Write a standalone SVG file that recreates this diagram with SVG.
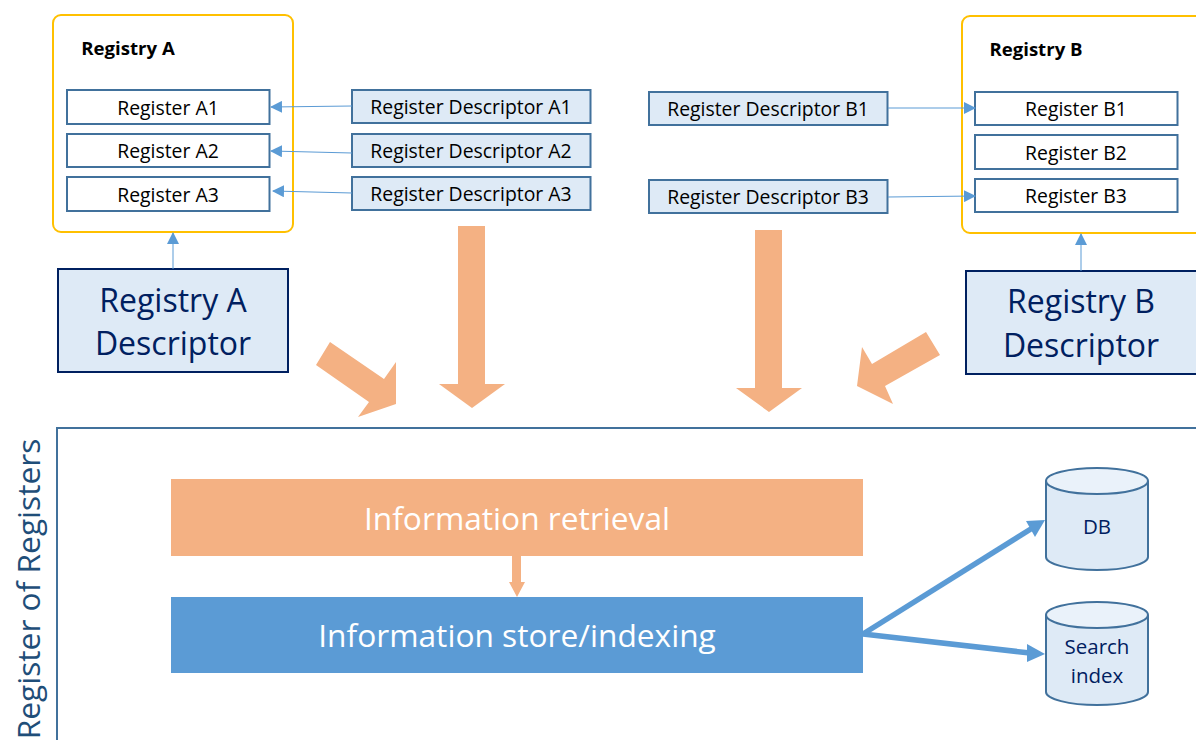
<svg xmlns="http://www.w3.org/2000/svg" width="1196" height="740" viewBox="0 0 1196 740">
<style>
text{font-family:"Open Sans","Noto Sans","Liberation Sans",sans-serif;text-anchor:middle}
.reg{fill:#fff;stroke:#41719c;stroke-width:2}
.desc{fill:#deeaf6;stroke:#41719c;stroke-width:2}
.t{font-size:19.4px;fill:#000}
.title{font-size:18.6px;font-weight:700;fill:#000}
.box{fill:#fff;stroke:#ffc000;stroke-width:2}
.rd{fill:#deeaf6;stroke:#002060;stroke-width:2}
.big{font-size:32px;fill:#002060}
.or{fill:#f4b183}
.thin{fill:none;stroke:#5b9bd5;stroke-width:1}
.cyl{fill:#deeaf6;stroke:#41719c;stroke-width:2}
.top{fill:#eaf2fa;stroke:#41719c;stroke-width:2}
.db{font-size:20.5px;fill:#002060}
.w{font-size:31.7px;fill:#fff}
</style>
<defs>
<marker id="a" markerUnits="userSpaceOnUse" markerWidth="12" markerHeight="12" refX="11" refY="6" orient="auto"><path d="M0 0L12 6L0 12Z" fill="#5b9bd5"/></marker>
</defs>
<g id="registry-a">
<rect class="box" x="53" y="15" width="240" height="217" rx="8"/>
<text class="title" x="128" y="54.500">Registry A</text>
</g>
<g id="register-a1"><rect class="reg" x="67" y="90" width="202.500" height="34"/><text class="t" x="168" y="115">Register A1</text></g>
<g id="register-a2"><rect class="reg" x="67" y="134" width="202.500" height="33"/><text class="t" x="168" y="158">Register A2</text></g>
<g id="register-a3"><rect class="reg" x="67" y="177" width="202.500" height="34"/><text class="t" x="168" y="202">Register A3</text></g>
<g id="descriptor-a1"><rect class="desc" x="352" y="90" width="238.500" height="33"/><text class="t" x="471" y="114">Register Descriptor A1</text></g>
<g id="descriptor-a2"><rect class="desc" x="352" y="134" width="238.500" height="33"/><text class="t" x="471" y="158">Register Descriptor A2</text></g>
<g id="descriptor-a3"><rect class="desc" x="352" y="177" width="238.500" height="33"/><text class="t" x="471" y="201">Register Descriptor A3</text></g>
<g id="registry-a-descriptor"><rect class="rd" x="58" y="269" width="230" height="103"/><text class="big" x="173" y="312">Registry A</text><text class="big" x="173" y="355">Descriptor</text></g>
<g id="registry-b">
<rect class="box" x="962" y="16" width="244" height="217" rx="8"/>
<text class="title" x="1036" y="55.500">Registry B</text>
</g>
<g id="register-b1"><rect class="reg" x="975" y="92" width="202.500" height="33"/><text class="t" x="1076" y="116">Register B1</text></g>
<g id="register-b2"><rect class="reg" x="975" y="135" width="202.500" height="34"/><text class="t" x="1076" y="160">Register B2</text></g>
<g id="register-b3"><rect class="reg" x="975" y="179" width="202.500" height="33"/><text class="t" x="1076" y="203">Register B3</text></g>
<g id="descriptor-b1"><rect class="desc" x="649" y="92" width="238.500" height="33"/><text class="t" x="768" y="116">Register Descriptor B1</text></g>
<g id="descriptor-b3"><rect class="desc" x="649" y="180" width="238.500" height="33"/><text class="t" x="768" y="204">Register Descriptor B3</text></g>
<g id="registry-b-descriptor"><rect class="rd" x="966" y="271" width="232" height="103"/><text class="big" x="1081" y="313">Registry B</text><text class="big" x="1081" y="357">Descriptor</text></g>
<g id="register-of-registers">
<path d="M1196 428H57V740" fill="#fff" stroke="#41719c" stroke-width="2"/>
<text x="40" y="589" transform="rotate(-90 40 589)" style="font-size:31.700px;fill:#1f4e79">Register of Registers</text>
</g>
<g id="information-retrieval"><rect class="or" x="171" y="479" width="692" height="77"/><text class="w" x="517" y="530">Information retrieval</text></g>
<g id="information-store"><rect x="171" y="597" width="692" height="76" fill="#5b9bd5"/><text class="w" x="517" y="647">Information store/indexing</text></g>
<g id="db"><path class="cyl" d="M1046 481V557C1046 564 1069 570 1097 570S1148 564 1148 557V481"/><ellipse class="top" cx="1097" cy="481" rx="51" ry="13"/><text class="db" x="1097" y="534">DB</text></g>
<g id="search-index"><path class="cyl" d="M1046 615V692C1046 699 1069 705 1097 705S1148 699 1148 692V615"/><ellipse class="top" cx="1097" cy="615" rx="51" ry="13"/><text class="db" x="1097" y="654">Search</text><text class="db" x="1097" y="683">index</text></g>
<g id="connectors">
<path class="thin" d="M352 106L271 107" marker-end="url(#a)"/>
<path class="thin" d="M352 153L271 151" marker-end="url(#a)"/>
<path class="thin" d="M352 193L273 191" marker-end="url(#a)"/>
<path class="thin" d="M888 108L975 108" marker-end="url(#a)"/>
<path class="thin" d="M888 197L975 196" marker-end="url(#a)"/>
<path class="thin" d="M173 269V233" marker-end="url(#a)"/>
<path class="thin" d="M1081 271V234" marker-end="url(#a)"/>
<path class="or" d="M458 226H485V384H505L472 408L439 384H458Z"/>
<path class="or" d="M755 230H782V388H802L769 412L736 388H755Z"/>
<path class="or" d="M330 342L316 365L369 402L358 417L396 404V362L384 379Z"/>
<path class="or" d="M926 332L940 355L885 386L893 404L857 386L862 347L872 364Z"/>
<path class="or" d="M512 556H521V582H525L517 597L509 582H512Z"/>
<g fill="none" stroke="#5b9bd5" stroke-width="5.500">
<path d="M863 634L1034 527"/><path d="M863 634L1030 653"/></g>
<path d="M1045 520L1026 521L1035 537Z" fill="#5b9bd5"/>
<path d="M1045 654L1027 644L1027 662Z" fill="#5b9bd5"/>
</g>
</svg>
